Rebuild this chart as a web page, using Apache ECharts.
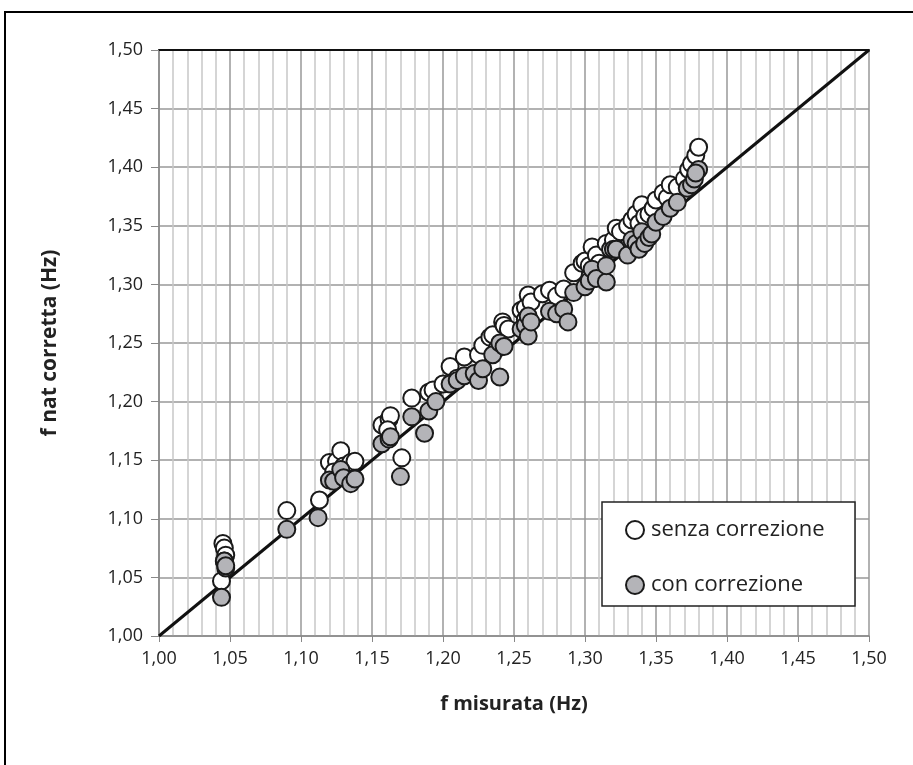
<!DOCTYPE html>
<html><head><meta charset="utf-8">
<script src="https://cdn.jsdelivr.net/npm/echarts@6/dist/echarts.min.js"></script>
<style>html,body{margin:0;padding:0;background:#fff}#c{width:913px;height:765px}</style>
</head><body><div id="c"></div>
<script>
const senzaCorrezione = [
[1.044,1.047],[1.045,1.079],[1.046,1.075],[1.047,1.069],[1.046,1.064],
[1.090,1.107],[1.113,1.116],
[1.120,1.148],[1.125,1.149],[1.128,1.158],[1.130,1.145],[1.135,1.148],[1.138,1.149],[1.123,1.140],
[1.157,1.180],[1.162,1.185],[1.163,1.188],[1.161,1.176],
[1.171,1.152],[1.178,1.203],[1.190,1.208],[1.193,1.210],
[1.200,1.215],[1.205,1.230],[1.215,1.238],[1.210,1.220],
[1.225,1.240],[1.228,1.248],[1.233,1.255],[1.235,1.257],[1.238,1.245],
[1.242,1.268],[1.243,1.265],[1.246,1.262],
[1.255,1.278],[1.258,1.280],[1.260,1.291],[1.262,1.285],[1.258,1.270],
[1.270,1.292],[1.275,1.295],[1.280,1.290],[1.285,1.296],
[1.292,1.310],[1.298,1.318],[1.300,1.320],[1.303,1.316],[1.305,1.332],[1.308,1.325],[1.310,1.318],
[1.315,1.335],[1.318,1.330],[1.320,1.338],[1.322,1.348],[1.325,1.345],
[1.330,1.350],[1.333,1.355],[1.336,1.360],[1.340,1.368],[1.338,1.352],[1.342,1.358],
[1.345,1.360],[1.348,1.365],[1.350,1.372],[1.355,1.378],[1.358,1.374],[1.360,1.385],[1.365,1.383],
[1.370,1.390],[1.373,1.398],[1.375,1.403],[1.378,1.410],[1.380,1.417]
];
const conCorrezione = [
[1.044,1.033],[1.046,1.064],[1.047,1.058],[1.047,1.060],
[1.090,1.091],[1.112,1.101],
[1.120,1.133],[1.123,1.132],[1.128,1.142],[1.130,1.135],[1.135,1.130],[1.138,1.134],
[1.157,1.164],[1.162,1.168],[1.163,1.170],
[1.170,1.136],[1.178,1.187],[1.187,1.173],[1.190,1.192],[1.195,1.200],
[1.205,1.215],[1.210,1.218],[1.215,1.222],[1.222,1.224],[1.225,1.218],[1.228,1.228],[1.235,1.240],[1.240,1.221],[1.240,1.250],[1.243,1.247],
[1.255,1.262],[1.258,1.265],[1.260,1.273],[1.260,1.256],[1.262,1.268],
[1.275,1.277],[1.280,1.275],[1.285,1.279],[1.288,1.268],[1.292,1.293],
[1.300,1.298],[1.303,1.303],[1.305,1.313],[1.308,1.305],[1.315,1.302],[1.315,1.316],[1.320,1.330],[1.322,1.330],
[1.330,1.325],[1.333,1.338],[1.336,1.335],[1.338,1.330],[1.340,1.345],[1.342,1.335],[1.345,1.340],[1.347,1.343],
[1.350,1.353],[1.355,1.358],[1.360,1.365],[1.365,1.370],[1.372,1.382],[1.375,1.385],[1.377,1.390],[1.380,1.398],[1.378,1.395]
];
const lineaRiferimento = [[1.00,1.00],[1.50,1.50]];
const seriesNames = ['senza correzione','con correzione'];
const xTitle = 'f misurata (Hz)';
const yTitle = 'f nat corretta (Hz)';

const FONT = '"Open Sans"';
const fmt = v => v.toFixed(2).replace('.', ',');
const chart = echarts.init(document.getElementById('c'));
chart.setOption({
  animation: false,
  textStyle: {fontFamily: FONT},
  graphic: [
    {type:'rect', shape:{x:5,y:12,width:1000,height:1000}, style:{fill:'none', stroke:'#000', lineWidth:2}, z:-10},
    {type:'rect', shape:{x:602,y:502,width:253,height:104}, style:{fill:'#fff', stroke:'#222', lineWidth:1.5}, z:50}
  ],
  grid: {left:159, right:44, top:50, bottom:129},
  legend: {
    data: seriesNames, orient:'vertical', left:620, top:514, itemGap:33,
    itemWidth:18, itemHeight:18, icon:'circle', z:60,
    textStyle:{fontSize:22, color:'#222', fontFamily:FONT, padding:[0,0,0,2]}
  },
  xAxis: [{
    type:'value', min:1.0, max:1.5, interval:0.05,
    name: xTitle, nameLocation:'middle', nameGap:58,
    nameTextStyle:{fontSize:20, fontWeight:'bold', color:'#222', fontFamily:FONT},
    axisLabel:{formatter:fmt, fontSize:18, color:'#222', margin:14},
    axisLine:{lineStyle:{color:'#888', width:1.5}},
    axisTick:{show:true, length:6, lineStyle:{color:'#888'}},
    splitLine:{show:true, lineStyle:{color:'#999', width:1.5}},
    minorTick:{show:false, splitNumber:5},
    minorSplitLine:{show:true, lineStyle:{color:'#c8c8c8', width:1.5}}
  },{
    type:'value', position:'top', min:1.0, max:1.5,
    axisLabel:{show:false}, axisTick:{show:false}, splitLine:{show:false},
    axisLine:{show:true, lineStyle:{color:'#111', width:2}}
  }],
  yAxis: {
    type:'value', min:1.0, max:1.5, interval:0.05,
    name: yTitle, nameLocation:'middle', nameGap:98, nameRotate:90,
    nameTextStyle:{fontSize:21, fontWeight:'bold', color:'#222', fontFamily:FONT},
    axisLabel:{formatter:fmt, fontSize:18, color:'#222', margin:16},
    axisLine:{show:true, lineStyle:{color:'#888', width:1.5}},
    axisTick:{show:true, length:8, lineStyle:{color:'#888'}},
    splitLine:{show:true, lineStyle:{color:'#999', width:1.5}}
  },
  series: [
    {type:'line', name:'rif', data:lineaRiferimento, symbol:'none', silent:true,
     lineStyle:{color:'#111', width:3}, z:2},
    {type:'scatter', name:seriesNames[0], data:senzaCorrezione, symbolSize:17,
     itemStyle:{color:'#fff', borderColor:'#1a1a1a', borderWidth:2, opacity:1}, z:3},
    {type:'scatter', name:seriesNames[1], data:conCorrezione, symbolSize:17,
     itemStyle:{color:'#b4b4b8', borderColor:'#1a1a1a', borderWidth:2, opacity:1}, z:4}
  ]
});
</script></body></html>
